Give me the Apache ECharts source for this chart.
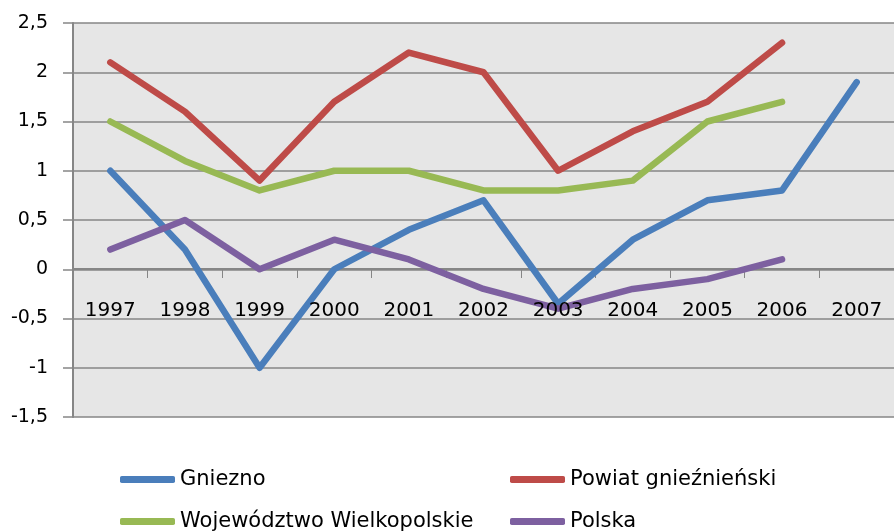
<!DOCTYPE html>
<html>
<head>
<meta charset="utf-8">
<script src="https://cdn.jsdelivr.net/npm/echarts@6/dist/echarts.min.js"></script>
<style>
  html, body { margin: 0; padding: 0; background: #fff; }
  #chart { width: 894px; height: 532px; }
</style>
</head>
<body>
<div id="chart"></div>
<script>
const years = ['1997', '1998', '1999', '2000', '2001', '2002', '2003', '2004', '2005', '2006', '2007']
const gniezno = [1.0, 0.2, -1.0, 0.0, 0.4, 0.7, -0.35, 0.3, 0.7, 0.8, 1.9]
const powiat = [2.1, 1.6, 0.9, 1.7, 2.2, 2.0, 1.0, 1.4, 1.7, 2.3, null]
const wojewodztwo = [1.5, 1.1, 0.8, 1.0, 1.0, 0.8, 0.8, 0.9, 1.5, 1.7, null]
const polska = [0.2, 0.5, 0.0, 0.3, 0.1, -0.2, -0.4, -0.2, -0.1, 0.1, null]

const seriesNames = ['Gniezno', 'Powiat gnieźnieński', 'Województwo Wielkopolskie', 'Polska']
const seriesColors = ['#4a7ebb', '#be4b48', '#98b954', '#7d60a0']
const seriesValues = [gniezno, powiat, wojewodztwo, polska]

const font = 'DejaVu Sans'
const gray = '#868686'

const chart = echarts.init(document.getElementById('chart'))

// one legend per item, laid out in two columns like the original
const legendPos = [
    {left: 120, top: 469},
    {left: 510, top: 469},
    {left: 120, top: 511},
    {left: 510, top: 511}
]
const legends = seriesNames.map((name, i) => ({
    data: [name],
    left: legendPos[i].left,
    top: legendPos[i].top,
    padding: 0,
    icon: 'roundRect',
    itemWidth: 55,
    itemHeight: 7,
    selectedMode: false,
    textStyle: {fontFamily: font, fontSize: 21, color: '#000'}
}))

// x axis sits on the zero line (1.5 units * 98.5px above the grid bottom)
const zeroOffset = -148

const option = {
    animation: false,
    color: seriesColors,
    legend: legends,
    grid: {
        left: 73,
        top: 23,
        right: -14,
        bottom: 115,
        show: true,
        backgroundColor: '#e6e6e6',
        borderWidth: 0
    },
    xAxis: [{
        type: 'category',
        data: years,
        boundaryGap: true,
        position: 'bottom',
        offset: zeroOffset,
        axisLine: {onZero: false, lineStyle: {color: gray, width: 2}},
        axisTick: {show: true, length: 9, lineStyle: {color: gray, width: 1}},
        axisLabel: {show: false},
        splitLine: {show: false}
    }, {
        // labels only, drawn above the lines like in the original
        type: 'category',
        data: years,
        boundaryGap: true,
        position: 'bottom',
        offset: zeroOffset,
        z: 10,
        axisLine: {show: false, onZero: false},
        axisTick: {show: false},
        axisLabel: {
            margin: 32,
            fontFamily: font,
            fontSize: 20,
            color: '#000'
        },
        splitLine: {show: false}
    }],
    yAxis: {
        type: 'value',
        min: -1.5,
        max: 2.5,
        interval: 0.5,
        axisLine: {show: true, lineStyle: {color: gray, width: 2}},
        axisTick: {show: true, length: 10, lineStyle: {color: gray, width: 1.5}},
        axisLabel: {
            margin: 25,
            fontFamily: font,
            fontSize: 19,
            color: '#000',
            formatter: v => String(v).replace('.', ',')
        },
        splitLine: {show: true, lineStyle: {color: gray, width: 1.5}}
    },
    series: seriesNames.map((name, i) => ({
        name: name,
        type: 'line',
        data: seriesValues[i],
        symbol: 'none',
        lineStyle: {width: 6.5, color: seriesColors[i], cap: 'round', join: 'round'}
    }))
}

chart.setOption(option)
</script>
</body>
</html>
